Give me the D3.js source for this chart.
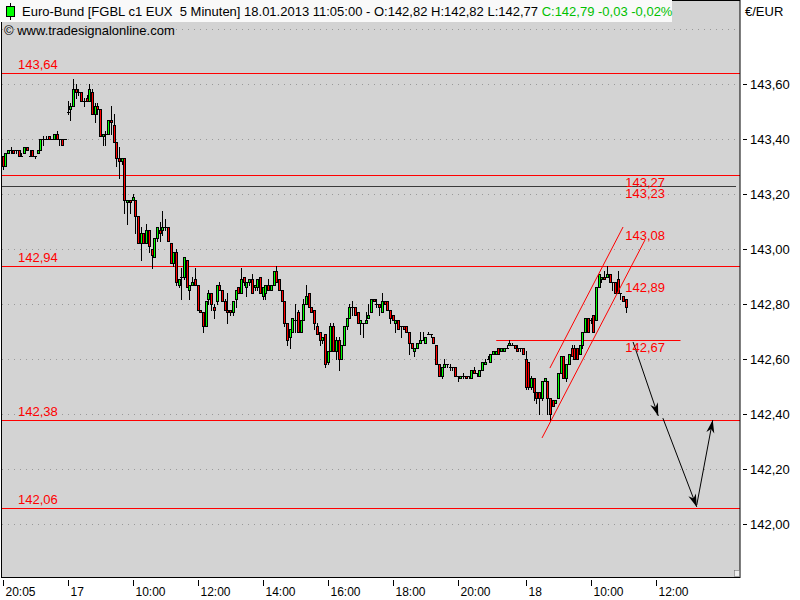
<!DOCTYPE html>
<html><head><meta charset="utf-8">
<script src="https://cdn.jsdelivr.net/npm/d3@7"></script>
<style>
html,body{margin:0;padding:0;background:#fff;}
svg{display:block;font-family:"Liberation Sans",Arial,sans-serif;}
</style></head>
<body>
<svg id="c" width="800" height="600"></svg>
<script>
// ---- DATA ----
// [open, high, low, close] 5-minute bars
const ohlc16 = [
[143.34,143.34,143.29,143.30],[143.30,143.35,143.30,143.35],[143.35,143.36,143.35,143.36],[143.36,143.37,143.35,143.36],
[143.36,143.36,143.35,143.35],[143.36,143.36,143.35,143.36],[143.36,143.36,143.34,143.34],[143.34,143.35,143.34,143.34],
[143.35,143.37,143.35,143.37],[143.37,143.37,143.36,143.36],[143.34,143.36,143.34,143.34],[143.36,143.36,143.34,143.34],
[143.34,143.34,143.33,143.34],[143.35,143.36,143.35,143.36],[143.36,143.40,143.36,143.40],[143.40,143.41,143.38,143.40],
[143.40,143.41,143.40,143.40],[143.41,143.41,143.40,143.40],[143.40,143.40,143.40,143.40],[143.40,143.42,143.40,143.42],
[143.42,143.43,143.40,143.40],[143.40,143.40,143.38,143.40],[143.40,143.40,143.38,143.38],[143.40,143.40,143.40,143.40]
];
const ohlc17 = [
[143.50,143.54,143.49,143.50],[143.51,143.53,143.47,143.52],[143.52,143.62,143.52,143.58],[143.58,143.60,143.55,143.57],
[143.57,143.58,143.56,143.57],[143.57,143.57,143.54,143.54],[143.54,143.55,143.52,143.54],[143.55,143.56,143.54,143.54],
[143.54,143.60,143.54,143.58],[143.57,143.58,143.49,143.49],[143.49,143.53,143.46,143.52],[143.52,143.53,143.49,143.51],
[143.51,143.51,143.41,143.41],[143.41,143.42,143.38,143.42],[143.42,143.43,143.38,143.42],[143.42,143.47,143.42,143.47],
[143.47,143.52,143.42,143.46],[143.45,143.49,143.39,143.39],[143.39,143.39,143.30,143.33],[143.33,143.37,143.26,143.32],
[143.32,143.33,143.31,143.33],[143.33,143.33,143.13,143.18],[143.17,143.18,143.09,143.18],[143.18,143.18,143.13,143.17],
[143.18,143.20,143.18,143.19],[143.18,143.18,143.06,143.12],[143.12,143.12,143.02,143.02],[143.02,143.08,142.96,143.06],
[143.06,143.06,143.02,143.02],[143.02,143.09,143.02,143.07],[143.07,143.07,142.99,143.01],[143.00,143.00,142.93,142.98],
[142.97,143.04,142.97,143.04],[143.04,143.08,143.03,143.08],[143.07,143.10,143.03,143.06],[143.07,143.14,143.05,143.08],
[143.08,143.11,143.07,143.08],[143.08,143.08,143.03,143.03],[143.02,143.02,142.95,142.95],[142.95,142.99,142.94,142.99],
[142.99,143.00,142.87,142.88],[142.87,142.89,142.86,142.89],[142.90,142.93,142.82,142.90],[142.90,142.97,142.89,142.97],
[142.96,142.96,142.86,142.86],[142.85,142.87,142.82,142.87],[142.87,142.90,142.87,142.88],[142.89,142.93,142.87,142.87],
[142.87,142.87,142.78,142.78],[142.78,142.78,142.77,142.77],[142.77,142.77,142.70,142.72],[142.72,142.81,142.72,142.81],
[142.82,142.85,142.80,142.84],[142.84,142.84,142.78,142.80],[142.79,142.80,142.75,142.78],[142.81,142.87,142.80,142.87],
[142.87,142.88,142.85,142.85],[142.85,142.85,142.81,142.81],[142.81,142.82,142.78,142.78],[142.78,142.84,142.73,142.77],
[142.78,142.78,142.76,142.77],[142.77,142.81,142.76,142.81],[142.82,142.85,142.79,142.85],[142.86,142.86,142.84,142.84],
[142.84,142.93,142.84,142.89],[142.90,142.90,142.87,142.88],[142.86,142.88,142.83,142.88],[142.88,142.89,142.87,142.89],
[142.89,142.91,142.84,142.84],[142.86,142.87,142.85,142.87],[142.86,142.89,142.85,142.89],[142.90,142.90,142.84,142.84],
[142.83,142.86,142.82,142.86],[142.84,142.87,142.82,142.87],[142.87,142.89,142.85,142.85],[142.85,142.87,142.85,142.87],
[142.87,142.92,142.87,142.92],[142.92,142.94,142.88,142.88],[142.89,142.89,142.85,142.85],[142.85,142.85,142.81,142.81],
[142.81,142.81,142.72,142.73],[142.73,142.73,142.65,142.67],[142.68,142.71,142.64,142.71],[142.70,142.75,142.70,142.75],
[142.74,142.80,142.70,142.74],[142.77,142.78,142.70,142.70],[142.70,142.74,142.70,142.74],[142.74,142.82,142.74,142.80],
[142.80,142.87,142.80,142.83],[142.84,142.84,142.79,142.79],[142.79,142.79,142.77,142.77],[142.78,142.78,142.71,142.73],
[142.72,142.73,142.69,142.69],[142.70,142.70,142.65,142.67],[142.67,142.68,142.66,142.68],[142.69,142.69,142.57,142.58],
[142.59,142.63,142.58,142.63],[142.63,142.73,142.63,142.72],[142.72,142.73,142.63,142.63],[142.63,142.68,142.60,142.67],
[142.67,142.68,142.56,142.60],[142.60,142.65,142.60,142.65],[142.65,142.72,142.65,142.72],[142.72,142.75,142.71,142.75],
[142.75,142.80,142.75,142.79],[142.79,142.81,142.76,142.79],[142.79,142.79,142.76,142.76],[142.77,142.77,142.73,142.73],
[142.73,142.74,142.69,142.74],[142.73,142.73,142.68,142.73],[142.73,142.77,142.73,142.74],[142.75,142.80,142.75,142.76],
[142.77,142.82,142.77,142.82],[142.82,142.82,142.81,142.81],[142.80,142.82,142.79,142.80],[142.80,142.80,142.76,142.79],
[142.77,142.84,142.77,142.81],[142.81,142.81,142.80,142.80],[142.81,142.81,142.78,142.78],[142.78,142.78,142.73,142.75],
[142.76,142.76,142.74,142.74],[142.73,142.74,142.70,142.74],[142.74,142.74,142.71,142.71],[142.72,142.72,142.68,142.72],
[142.72,142.72,142.71,142.71],[142.72,142.72,142.70,142.70],[142.70,142.70,142.62,142.66],[142.66,142.66,142.64,142.64],
[142.63,142.64,142.61,142.64],[142.64,142.66,142.64,142.66],[142.66,142.70,142.66,142.67],[142.67,142.70,142.67,142.67],
[142.66,142.68,142.66,142.68],[142.69,142.70,142.69,142.69],[142.69,142.69,142.68,142.69],[142.68,142.68,142.66,142.66],
[142.65,142.65,142.58,142.58],[142.58,142.58,142.54,142.54],[142.54,142.57,142.53,142.57],[142.57,142.60,142.57,142.58],
[142.58,142.58,142.57,142.58],[142.57,142.58,142.56,142.57],[142.57,142.57,142.56,142.57],[142.57,142.57,142.54,142.54],
[142.54,142.54,142.52,142.54],[142.53,142.54,142.53,142.54],[142.54,142.55,142.53,142.54],[142.54,142.54,142.53,142.53],
[142.54,142.54,142.53,142.54],[142.53,142.56,142.53,142.56],[142.56,142.57,142.55,142.55],[142.55,142.55,142.54,142.55],
[142.54,142.56,142.54,142.56],[142.56,142.59,142.56,142.59],[142.58,142.60,142.58,142.59],[142.60,142.61,142.60,142.60],
[142.59,142.62,142.59,142.62],[142.62,142.63,142.62,142.63],[142.62,142.63,142.62,142.63],[142.64,142.64,142.62,142.62],
[142.63,142.64,142.63,142.64],[142.63,142.64,142.63,142.64],[142.64,142.65,142.64,142.64],[142.65,142.67,142.65,142.66],
[142.65,142.66,142.65,142.65],[142.65,142.65,142.64,142.64],[142.64,142.65,142.63,142.63],[142.64,142.64,142.63,142.64],
[142.64,142.64,142.62,142.62]
];
const ohlc18 = [
[142.60,142.63,142.49,142.50],[142.59,142.59,142.49,142.50],[142.50,142.54,142.49,142.53],[142.53,142.53,142.45,142.48],
[142.48,142.48,142.44,142.46],[142.48,142.48,142.40,142.46],[142.46,142.52,142.45,142.52],[142.52,142.53,142.52,142.53],
[142.52,142.52,142.40,142.46],[142.46,142.46,142.38,142.40],[142.45,142.45,142.43,142.43],[142.44,142.45,142.44,142.45],
[142.46,142.55,142.46,142.55],[142.55,142.61,142.55,142.61],[142.61,142.61,142.53,142.53],[142.53,142.58,142.52,142.58],
[142.58,142.62,142.58,142.62],[142.64,142.65,142.61,142.61],[142.64,142.65,142.60,142.60],[142.64,142.64,142.60,142.60],
[142.62,142.65,142.62,142.65],[142.65,142.70,142.64,142.70],[142.70,142.75,142.70,142.75],[142.75,142.75,142.70,142.70],
[142.74,142.75,142.73,142.74],[142.76,142.76,142.70,142.70],[142.74,142.86,142.74,142.86],[142.86,142.91,142.86,142.91],
[142.89,142.90,142.88,142.90],[142.90,142.92,142.89,142.89],[142.90,142.94,142.90,142.91],[142.91,142.91,142.88,142.88],
[142.88,142.88,142.85,142.88],[142.88,142.88,142.84,142.84],[142.89,142.92,142.84,142.84],[142.84,142.84,142.82,142.84],
[142.83,142.83,142.81,142.81],[142.82,142.82,142.77,142.79]
];
const sessionStart = [0, 24, 193];           // bar index where each session begins
const xTickIdx    = [0, 24, 48, 72, 96, 120, 144, 168, 193, 217, 241];
const xTickLabels = ["20:05","17","10:00","12:00","14:00","16:00","18:00","20:00","18","10:00","12:00"];
const yTicks = [142.0,142.2,142.4,142.6,142.8,143.0,143.2,143.4,143.6];
const yGrid  = [142.0,142.2,142.4,142.6,142.8,143.0,143.2,143.4,143.6,143.8];
const redLevels   = [143.64, 143.27, 142.94, 142.38, 142.06];
const leftLabels  = [143.64, 142.94, 142.38, 142.06];
const blackLevel  = 143.23;
const shortLevel  = {value:142.67, from:182, to:250};
const channelUpper = [[201.8,142.567],[228.8,143.08]];
const channelLower = [[198.9,142.313],[236.9,143.033]];
const rightLabels = [143.27, 143.23, 143.08, 142.89, 142.67];
const arrows = [
  [[232.5,142.662],[241.8,142.393]],
  [[243.5,142.385],[256.0,142.062]],
  [[256.0,142.069],[261.9,142.378]]
];
const titleBlack = "Euro-Bund [FGBL c1 EUX  5 Minuten] 18.01.2013 11:05:00 - O:142,82 H:142,82 L:142,77 ";
const titleGreen = "C:142,79 -0,03 -0,02%";

// ---- CHART ----
const svg = d3.select("#c");
const fmt = v => d3.format(".2f")(v).replace(".", ",");
const x = d3.scaleLinear().domain([0, 272]).range([3, 3 + 272*2.71]);
const y = d3.scaleLinear().domain([141.8, 143.9]).range([579, 1.5]);
const L = 2, R = 740, T = 0, B = 577;
const FS = 13;

svg.append("rect").attr("width",800).attr("height",600).attr("fill","#fff");
svg.append("rect").attr("x",L).attr("y",T).attr("width",R-L).attr("height",B-T).attr("fill","#d3d3d3");
svg.append("defs").append("clipPath").attr("id","clip").append("rect")
  .attr("x",L).attr("y",T).attr("width",R-L).attr("height",B-T);
const g = svg.append("g").attr("clip-path","url(#clip)");

// dotted grid
g.selectAll("line.grid").data(yGrid).join("line")
  .attr("x1",L).attr("x2",R).attr("y1",d=>Math.round(y(d))+0.5).attr("y2",d=>Math.round(y(d))+0.5)
  .attr("stroke","#999").attr("stroke-dasharray","1,5");

// levels
g.selectAll("line.lvl").data(redLevels).join("line")
  .attr("x1",L).attr("x2",R).attr("y1",d=>Math.round(y(d))+0.5).attr("y2",d=>Math.round(y(d))+0.5)
  .attr("stroke","#ff0000");
g.append("line").attr("x1",L).attr("x2",R-4)
  .attr("y1",Math.round(y(blackLevel))+0.5).attr("y2",Math.round(y(blackLevel))+0.5)
  .attr("stroke","#3a3a3a");
g.append("line").attr("x1",x(shortLevel.from)).attr("x2",x(shortLevel.to))
  .attr("y1",Math.round(y(shortLevel.value))+0.5).attr("y2",Math.round(y(shortLevel.value))+0.5)
  .attr("stroke","#ff0000");

// candles
const bars = [];
[ohlc16, ohlc17, ohlc18].forEach((s,k)=> s.forEach((d,i)=> bars.push({i:sessionStart[k]+i,o:d[0],h:d[1],l:d[2],c:d[3]})));
const cg = g.append("g");
bars.forEach(b=>{
  const px = Math.floor(x(b.i));
  cg.append("line").attr("x1",px+0.5).attr("x2",px+0.5)
    .attr("y1",Math.round(y(b.h))).attr("y2",Math.round(y(b.l))+1).attr("stroke","#000");
  const yo = Math.round(y(b.o)), yc = Math.round(y(b.c));
  if (yo === yc) {
    cg.append("line").attr("x1",px-1).attr("x2",px+2).attr("y1",yo+0.5).attr("y2",yo+0.5).attr("stroke","#000");
  } else {
    cg.append("rect").attr("x",px-0.5).attr("width",2)
      .attr("y",Math.min(yo,yc)+0.5).attr("height",Math.abs(yo-yc))
      .attr("fill", b.c>b.o ? "#00ff00" : "#ff0000").attr("stroke","#000").attr("stroke-width",1);
  }
});

// channel
[channelUpper, channelLower].forEach(c=>{
  g.append("line").attr("x1",x(c[0][0])).attr("y1",y(c[0][1])).attr("x2",x(c[1][0])).attr("y2",y(c[1][1]))
   .attr("stroke","#ff0000").attr("stroke-width",1);
});

// arrows
arrows.forEach(a=>{
  const x1=x(a[0][0]), y1=y(a[0][1]), x2=x(a[1][0]), y2=y(a[1][1]);
  g.append("line").attr("x1",x1).attr("y1",y1).attr("x2",x2).attr("y2",y2).attr("stroke","#000").attr("stroke-width",1);
  const ang = Math.atan2(y2-y1,x2-x1)*180/Math.PI;
  g.append("path").attr("d","M0,0 L-13,-4 L-9,0 L-13,4 Z").attr("fill","#000")
   .attr("transform",`translate(${x2},${y2}) rotate(${ang})`);
});

// labels
g.selectAll("text.ll").data(leftLabels).join("text")
  .attr("x",18).attr("y",d=>y(d)-4).attr("fill","#ff0000").attr("font-size",FS).text(fmt);
g.selectAll("text.rl").data(rightLabels).join("text")
  .attr("x",x(229.6)).attr("y",d=>y(d)+12.5).attr("fill","#ff0000").attr("font-size",FS).text(fmt);

// frame
svg.append("rect").attr("x",1.5).attr("y",0.5).attr("width",R-1.5).attr("height",B).attr("fill","none").attr("stroke","#000");
svg.append("rect").attr("x",734.5).attr("y",570.5).attr("width",5).attr("height",6).attr("fill","#eee").attr("stroke","#666").attr("stroke-width",0.5);

// title
svg.append("rect").attr("x",0).attr("y",0).attr("width",672).attr("height",22).attr("fill","#f9f9f9");
const ic = svg.append("g");
ic.append("line").attr("x1",10.5).attr("x2",10.5).attr("y1",3).attr("y2",20).attr("stroke","#000");
ic.append("rect").attr("x",6.5).attr("y",6.5).attr("width",8).attr("height",10).attr("fill","#00ff00").attr("stroke","#000");
const tt = svg.append("text").attr("x",22).attr("y",16).attr("font-size",FS).style("white-space","pre");
tt.append("tspan").attr("fill","#000").text(titleBlack);
tt.append("tspan").attr("fill","#00c000").text(titleGreen);
svg.append("text").attr("x",4).attr("y",35).attr("font-size",FS).attr("fill","#000").text("© www.tradesignalonline.com");

// right axis
svg.append("text").attr("x",745).attr("y",16).attr("font-size",FS).text("€/EUR");
const ya = svg.append("g");
yTicks.forEach(v=>{
  const yy = Math.round(y(v))+0.5;
  ya.append("line").attr("x1",743).attr("x2",747).attr("y1",yy).attr("y2",yy).attr("stroke","#000");
  ya.append("text").attr("x",750).attr("y",yy+4.5).attr("font-size",FS).text(fmt(v));
});

// bottom axis
const xa = svg.append("g");
xTickIdx.forEach((idx,k)=>{
  const xx = Math.floor(x(idx))+0.5;
  xa.append("line").attr("x1",xx).attr("x2",xx).attr("y1",580).attr("y2",586).attr("stroke","#000");
  xa.append("text").attr("x",xx+2).attr("y",596).attr("font-size",12).text(xTickLabels[k]);
});
</script>
</body></html>
